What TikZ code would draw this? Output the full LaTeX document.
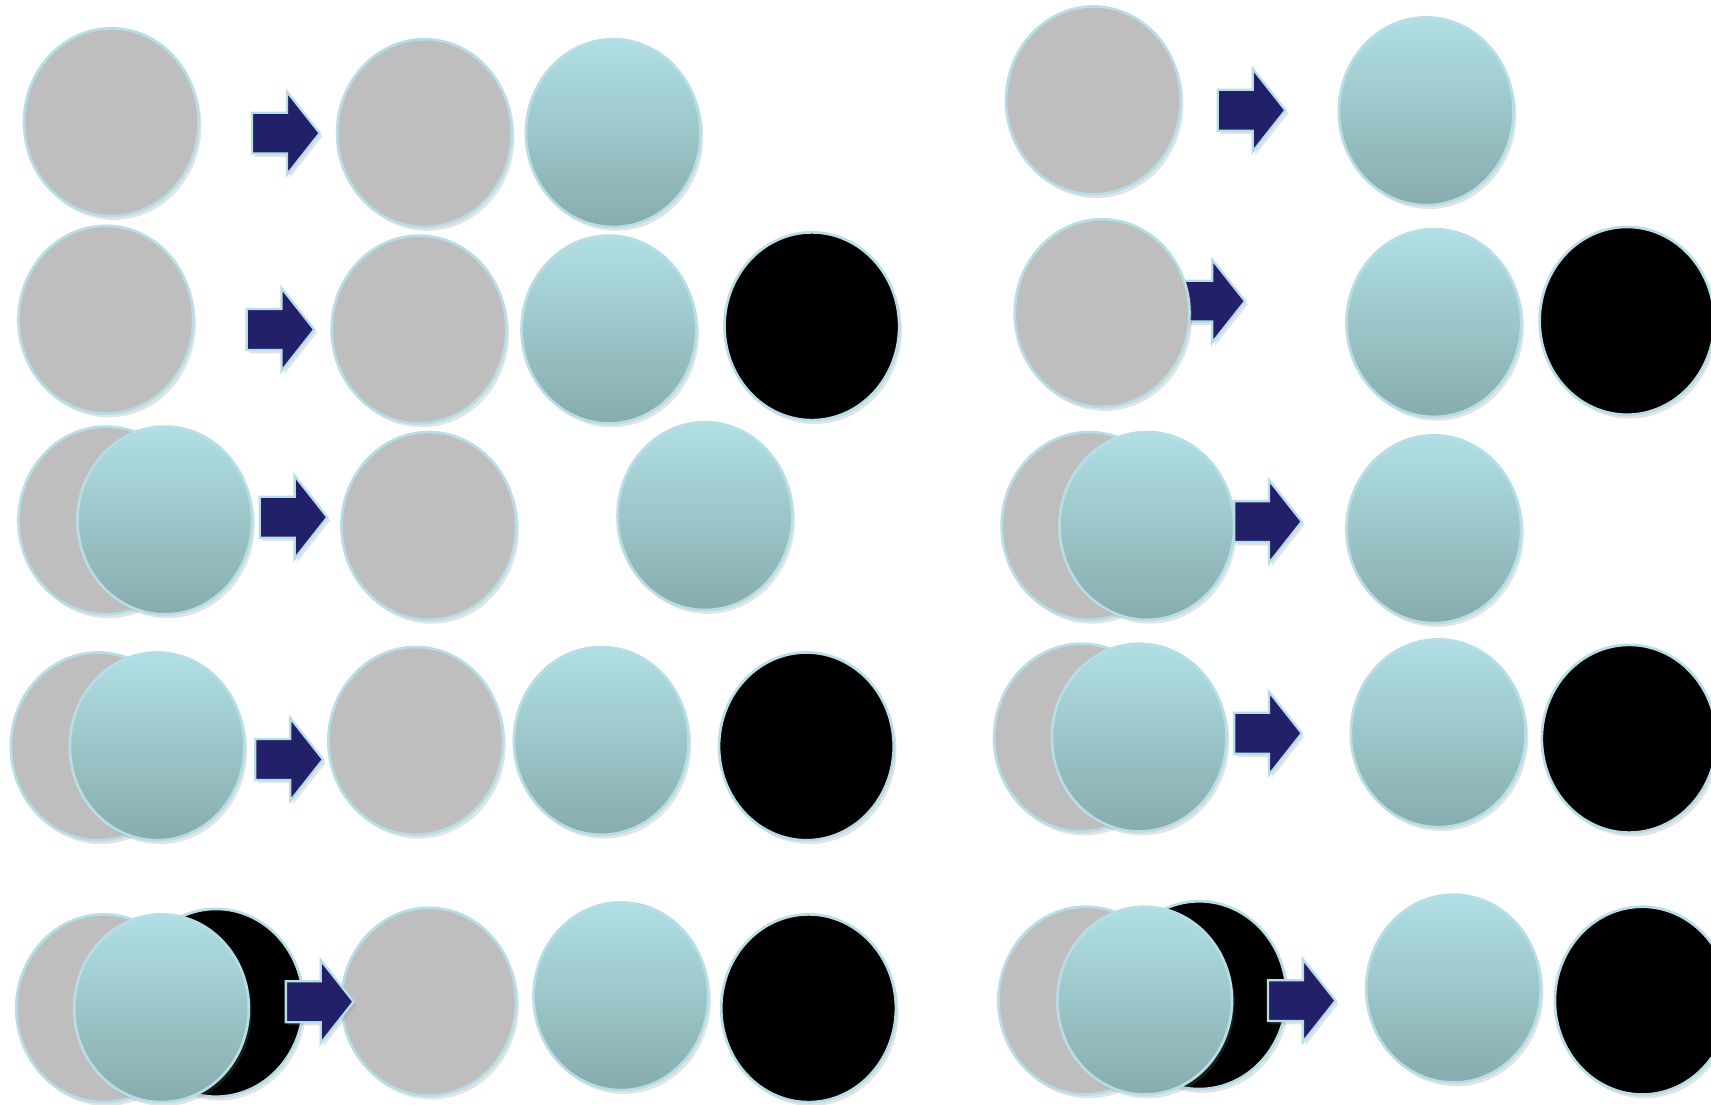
\documentclass[tikz,border=0pt]{standalone}
\usepackage{xcolor}
\usepackage{tikz}
\usetikzlibrary{shapes.geometric,shadows}
\definecolor{ballgray}{RGB}{190,190,190}
\definecolor{tealtop}{RGB}{176,223,228}
\definecolor{tealbot}{RGB}{135,172,174}
\definecolor{rim}{RGB}{183,222,230}
\definecolor{navy}{RGB}{34,32,104}

\tikzset{
  ball/.style={ellipse, minimum width=1.6cm, minimum height=1.72cm, inner sep=0pt,
    draw=rim, line width=0.7pt,
    drop shadow={opacity=0.22, shadow xshift=0.025cm, shadow yshift=-0.035cm}},
  grayball/.style={ball, fill=ballgray},
  tealball/.style={ball, top color=tealtop, bottom color=tealbot},
  blackball/.style={ball, fill=black},
  blockarrow/.style={fill=navy, draw=rim, line width=0.6pt,
    drop shadow={opacity=0.22, shadow xshift=0.025cm, shadow yshift=-0.03cm}}
}

\begin{document}
\begin{tikzpicture}[x=0.01cm, y=-0.01cm]
  \useasboundingbox (0,0) rectangle (1568,1012);
  \clip (0,0) rectangle (1568,1012);

  % left column
  \node[grayball]  (l1in) at (102,112) {};
  \node[grayball]  (l1g)  at (389,122) {};
  \node[tealball]  (l1t)  at (562,122) {};

  \node[grayball]  (l2in) at (97,293) {};
  \node[grayball]  (l2g)  at (384,302) {};
  \node[tealball]  (l2t)  at (558,302) {};
  \node[blackball] (l2b)  at (744,299) {};

  \node[grayball]  (l3ing) at (97,477) {};
  \node[tealball]  (l3int) at (151,477) {};
  \node[grayball]  (l3g)   at (393,482) {};
  \node[tealball]  (l3t)   at (646,473) {};

  \node[grayball]  (l4ing) at (90,684) {};
  \node[tealball]  (l4int) at (144,684) {};
  \node[grayball]  (l4g)   at (381,679) {};
  \node[tealball]  (l4t)   at (551,679) {};
  \node[blackball] (l4b)   at (739,684) {};

  \node[grayball]  (l5ing) at (95,924) {};
  \node[blackball] (l5inb) at (198,919) {};
  \node[tealball]  (l5int) at (148,924) {};
  \node[grayball]  (l5g)   at (393,918) {};
  \node[tealball]  (l5t)   at (569,913) {};
  \node[blackball] (l5b)   at (741,924) {};

  % right column (row 2 arrow sits behind its ball)
  \fill[blockarrow] (1079,276) ++(0,-18.75) -- ++(32,0) -- ++(0,-19.25) -- ++(30,38)
    -- ++(-30,38) -- ++(0,-19.25) -- ++(-32,0) -- cycle;

  \node[grayball]  (r1in) at (1002,92) {};
  \node[tealball]  (r1t)  at (1307,102) {};

  \node[grayball]  (r2in) at (1010,287) {};
  \node[tealball]  (r2t)  at (1314,296) {};
  \node[blackball] (r2b)  at (1491,294) {};

  \node[grayball]  (r3ing) at (998,482) {};
  \node[tealball]  (r3int) at (1051,482) {};
  \node[tealball]  (r3t)   at (1314,485) {};

  \node[grayball]  (r4ing) at (991,676) {};
  \node[tealball]  (r4int) at (1044,676) {};
  \node[tealball]  (r4t)   at (1318,672) {};
  \node[blackball] (r4b)   at (1493,677) {};

  \node[grayball]  (r5ing) at (995,917) {};
  \node[blackball] (r5inb) at (1099,912) {};
  \node[tealball]  (r5int) at (1049,917) {};
  \node[tealball]  (r5t)   at (1332,906) {};
  \node[blackball] (r5b)   at (1505,917) {};

  % block arrows
  \foreach \ax/\ay in {231/122, 226/302, 238/474, 234/696, 262/918,
                       1116/101, 1131/478, 1131/672, 1162/917}{
    \fill[blockarrow] (\ax,\ay) ++(0,-18.75) -- ++(32,0) -- ++(0,-19.25) -- ++(30,38)
      -- ++(-30,38) -- ++(0,-19.25) -- ++(-32,0) -- cycle;
  }
\end{tikzpicture}
\end{document}
